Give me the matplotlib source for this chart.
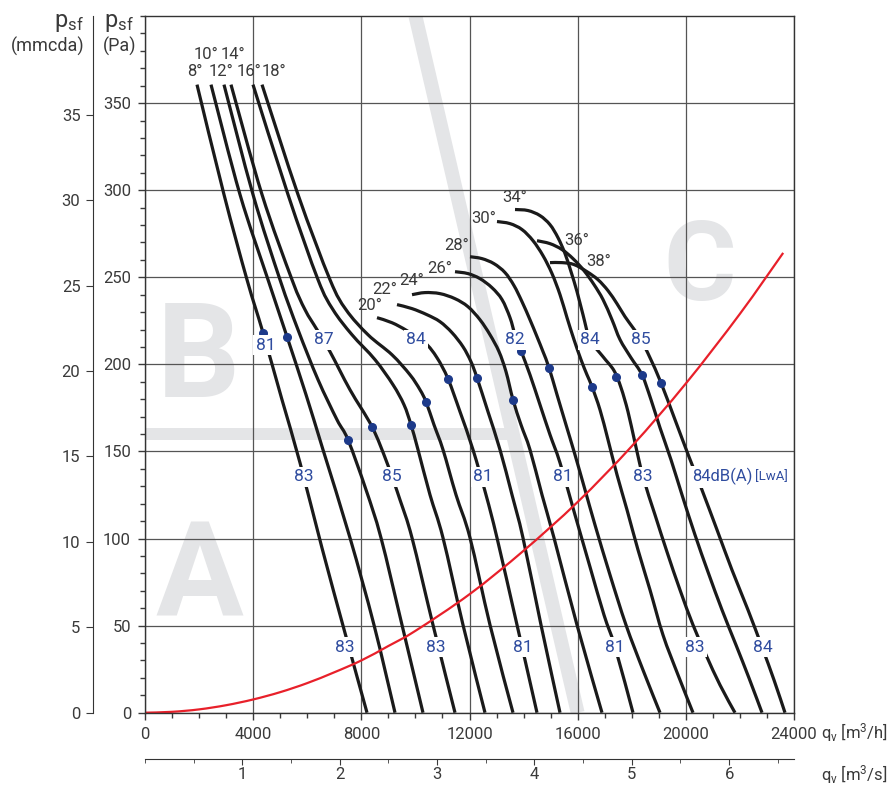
import matplotlib
matplotlib.use("Agg")
from matplotlib import pyplot as plt
from matplotlib.ticker import MultipleLocator
from matplotlib.path import Path
from matplotlib.patches import PathPatch

plt.rcParams['font.family'] = ['Roboto', 'DejaVu Sans']
plt.rcParams['mathtext.fontset'] = 'custom'
plt.rcParams['mathtext.rm'] = 'Roboto'
plt.rcParams['mathtext.it'] = 'Roboto'

TXT = '#3a3a3a'
BLUE = '#2f4c9f'
DOT = '#1d3a8a'
GREY = '#e4e5e7'

# fan curves per blade angle: airflow q (m3/h), static pressure p (Pa)
q08 = [1923, 2921, 3772, 4364, 5066, 5732, 6545, 7396, 8210]
p08 = [360.6, 297.5, 248.6, 218.2, 179.7, 143.5, 94.6, 45.8, 0]
q10 = [2441, 3513, 4549, 5251, 5954, 6582, 7581, 8468, 9245]
p10 = [360.6, 297.5, 248.6, 215.9, 182.6, 151.0, 100.4, 50.4, 0]
q12 = [2921, 3994, 4992, 5658, 6398, 7100, 7507, 8173, 8727, 9504, 10280]
p12 = [360.6, 297.5, 248.6, 219.9, 191.2, 168.2, 156.7, 128.0, 100.4, 50.4, 0]
q14 = [3180, 4327, 5436, 5917, 6361, 6841, 7581, 8394, 8949, 9430, 9874, 10650, 11464]
p14 = [360.6, 297.5, 248.6, 231.4, 219.9, 207.3, 185.4, 164.2, 143.5, 122.2, 100.4, 50.4, 0]
q16 = [3994, 5288, 6398, 6952, 7655, 8505, 9171, 9578, 9837, 10096, 10539, 11020, 11760, 12573]
p16 = [360.6, 297.5, 248.6, 231.4, 217.0, 202.7, 188.3, 176.8, 165.3, 151.0, 125.1, 100.4, 50.4, 0]
q18 = [4327, 5658, 6841, 7433, 8247, 9134, 9800, 10170, 10391, 10687, 11020, 11501, 12019, 12758, 13609]
p18 = [360.6, 297.5, 248.6, 231.4, 217.0, 205.5, 194.0, 185.4, 178.5, 165.3, 151.0, 125.1, 100.4, 50.4, 0]
q20 = [8579, 9134, 9689, 10354, 10798, 11205, 11649, 12129, 12610, 13017, 13757, 14496]
p20 = [226.8, 223.9, 219.3, 212.4, 203.8, 191.7, 172.8, 151.0, 125.1, 100.4, 50.4, 0]
q22 = [9319, 9874, 10428, 10909, 11353, 11760, 12055, 12277, 12684, 13128, 13572, 13978, 14644, 15347]
p22 = [234.3, 232.0, 228.5, 224.5, 218.2, 210.1, 201.5, 192.3, 172.8, 151.0, 125.1, 100.4, 50.4, 0]
q24 = [9874, 10354, 10909, 11464, 11944, 12388, 12758, 13091, 13350, 13609, 13905, 14237, 14681,
       15125, 15975, 16900]
p24 = [240.0, 241.2, 240.6, 237.7, 233.1, 225.6, 217.0, 207.3, 195.8, 179.7, 165.3, 151.0, 125.1,
       100.4, 50.4, 0]
q26 = [11464, 11944, 12388, 12832, 13202, 13498, 13683, 13905, 14237, 14607, 14977, 15347, 15901,
       16456, 16974, 17381, 18046]
p26 = [253.2, 252.1, 249.2, 244.0, 237.2, 226.8, 217.0, 207.8, 194.0, 176.8, 159.6, 143.5, 113.6,
       83.7, 56.1, 37.7, 0]
q28 = [12019, 12462, 12906, 13313, 13646, 13941, 14237, 14496, 14718, 14940, 15236, 15569, 15901,
       16271, 16641, 17196, 17787, 18416, 19045]
p28 = [261.8, 260.7, 257.8, 252.7, 245.2, 236.0, 225.6, 215.9, 207.3, 198.1, 182.6, 165.3, 148.1,
       128.0, 107.8, 79.1, 50.4, 24.5, 0]
q30 = [13017, 13498, 13941, 14348, 14718, 15051, 15347, 15606, 15864, 16123, 16345, 16530, 16826,
       17122, 17455, 17824, 18231, 18675, 19156, 19711, 20265]
p30 = [282.0, 280.8, 277.4, 271.0, 262.4, 252.1, 240.0, 226.8, 214.2, 202.7, 194.0, 187.2, 173.9,
       156.7, 136.6, 116.5, 93.5, 70.5, 44.6, 21.7, 0]
q34 = [13683, 14163, 14607, 14977, 15273, 15532, 15754, 15975, 16197, 16456, 16937, 17344, 17603,
       17861, 18120, 18416, 18860, 19304, 19784, 20265, 20746, 21264, 21818]
p34 = [288.9, 288.3, 285.4, 280.2, 272.7, 263.6, 253.2, 241.8, 228.5, 214.2, 204.4, 196.4, 186.6,
       172.8, 155.0, 135.5, 113.6, 92.3, 70.5, 50.4, 33.2, 15.9, 0]
q36 = [14496, 14977, 15421, 15827, 16234, 16604, 16937, 17270, 17566, 17972, 18379, 18712, 19045,
       19452, 19858, 20339, 20820, 21338, 21855, 22336, 22817]
p36 = [271.0, 269.3, 265.9, 260.7, 253.8, 245.8, 237.2, 225.6, 214.2, 203.8, 194.0, 179.7, 163.6,
       145.2, 125.1, 102.1, 80.8, 59.0, 38.9, 19.9, 0]
q38 = [14977, 15421, 15864, 16345, 16752, 17122, 17455, 17750, 18046, 18342, 18675, 19082, 19600,
       20117, 20595, 21153, 21708, 22299, 22817, 23260, 23667]
p38 = [258.4, 258.4, 257.3, 253.2, 248.6, 242.3, 234.8, 227.4, 221.0, 214.2, 203.8, 189.4, 168.2,
       146.9, 128.0, 105.0, 81.9, 59.0, 37.7, 18.8, 0]

curves = [(q08, p08), (q10, p10), (q12, p12), (q14, p14), (q16, p16), (q18, p18),
          (q20, p20), (q22, p22), (q24, p24), (q26, p26), (q28, p28), (q30, p30),
          (q34, p34), (q36, p36), (q38, p38)]

# best-efficiency points
dot_q = [4364, 5251, 7507, 8394, 9837, 10391, 11205, 12277, 13609, 13905, 14940, 16530, 17420, 18379, 19082]
dot_p = [218.2, 215.9, 156.7, 164.2, 165.3, 178.5, 191.7, 192.3, 179.7, 207.8, 198.1, 187.2, 192.9, 194.0, 189.4]

# system curve
sys_q = [0, 1000, 2000, 3000, 4000, 5000, 6000, 7000, 8000, 9000, 10000, 12000,
         14000, 16000, 18000, 20000, 22000, 23600]
sys_p = [0, 0.5, 1.9, 4.3, 7.6, 11.8, 17, 23.2, 30, 38.3, 47, 68, 93, 121, 153, 189, 229, 264]

# blade angle labels
ang_txt = ['10°', '14°', '8°', '12°', '16°', '18°', '20°', '22°', '24°', '26°', '28°', '30°', '34°', '36°', '38°']
ang_q = [2256, 3254, 1849, 2810, 3840, 4760, 8320, 8875, 9870, 10910, 11540, 12540, 13680, 15970, 16790]
ang_p = [378, 378, 368, 368, 368, 368, 234, 243, 248, 255, 268, 284, 296, 271, 259]

# sound power labels dB(A)
snd_txt = ['81', '87', '84', '82', '84', '85',
           '83', '85', '81', '81', '83',
           '83', '83', '81', '81', '83', '84']
snd_q = [4470, 6620, 10020, 13680, 16460, 18340,
         5880, 9130, 12500, 15460, 18420,
         7400, 10760, 13980, 17380, 20340, 22850]
snd_p = [211, 214, 214, 214, 214, 214,
         135.5, 135.5, 135.5, 135.5, 135.5,
         37.7, 37.7, 37.7, 37.7, 37.7, 37.7]


def smooth_path(xs, ys):
    # bezier path passing through the read points
    pts = list(zip(xs, ys))
    n = len(pts)
    verts = [pts[0]]
    codes = [Path.MOVETO]
    for i in range(n - 1):
        p0 = pts[i - 1] if i > 0 else pts[i]
        p1 = pts[i]
        p2 = pts[i + 1]
        p3 = pts[i + 2] if i + 2 < n else pts[i + 1]
        c1 = (p1[0] + (p2[0] - p0[0]) / 6, p1[1] + (p2[1] - p0[1]) / 6)
        c2 = (p2[0] - (p3[0] - p1[0]) / 6, p2[1] - (p3[1] - p1[1]) / 6)
        verts += [c1, c2, p2]
        codes += [Path.CURVE4] * 3
    return Path(verts, codes)


fig = plt.figure(figsize=(8.92, 7.85), dpi=100)
ax = fig.add_axes([145 / 892, 1 - 712.7 / 785, 649 / 892, 696.7 / 785])
ax.set_xlim(0, 24000)
ax.set_ylim(0, 400)

# grey zone marks
ax.plot([10000, 16000], [400, 0], color=GREY, lw=10, solid_capstyle='butt', zorder=0.5)
ax.plot([0, 13600], [160, 160], color=GREY, lw=8.6, solid_capstyle='butt', zorder=0.4)
ax.text(1960, 181, 'B', color=GREY, fontsize=94, fontweight='bold', ha='center', va='baseline', zorder=0.3)
ax.text(2030, 56, 'A', color=GREY, fontsize=94, fontweight='bold', ha='center', va='baseline', zorder=0.3)
ax.text(20520, 237, 'C', color=GREY, fontsize=80, fontweight='bold', ha='center', va='baseline', zorder=0.3)

ax.set_xticks(range(0, 24001, 4000))
ax.set_yticks(range(0, 351, 50))
ax.xaxis.set_minor_locator(MultipleLocator(1000))
ax.yaxis.set_minor_locator(MultipleLocator(10))
ax.grid(True, which='major', color='#555555', lw=0.9)
ax.tick_params(which='both', direction='out', colors=TXT, labelsize=12, width=1)
ax.tick_params(which='major', length=5, pad=5)
ax.tick_params(which='minor', length=3.5)
for sp in ax.spines.values():
    sp.set_color('#333333')
    sp.set_linewidth(1)

ax.add_patch(PathPatch(smooth_path(sys_q, sys_p), fill=False, ec='#e8202a', lw=1.6, zorder=2.5))
for q, p in curves:
    ax.add_patch(PathPatch(smooth_path(q, p), fill=False, ec='#1a1a1a', lw=2.3,
                           capstyle='butt', zorder=2))
ax.plot(dot_q, dot_p, 'o', color=DOT, ms=5.5, zorder=4)

for s, x, y in zip(ang_txt, ang_q, ang_p):
    ax.text(x, y, s, color=TXT, fontsize=12, ha='center', va='center', zorder=5)
for s, x, y in zip(snd_txt, snd_q, snd_p):
    ax.text(x, y, s, color=BLUE, fontsize=12.5, ha='center', va='center', zorder=5,
            bbox=dict(boxstyle='square,pad=0.15', fc='white', ec='none'))
ax.text(20230, 135.5, '84dB(A)', color=BLUE, fontsize=12, ha='left', va='center', zorder=5,
        bbox=dict(boxstyle='square,pad=0.15', fc='white', ec='none'))
ax.text(22550, 135.5, '[LwA]', color=BLUE, fontsize=9.5, ha='left', va='center', zorder=5)

# mmcda axis
axm = ax.secondary_yaxis(-52 / 649, functions=(lambda p: p / 9.80665, lambda m: m * 9.80665))
axm.set_yticks(range(0, 36, 5))
axm.tick_params(direction='out', length=5, colors=TXT, labelsize=12, pad=4)
axm.spines['left'].set_color('#333333')

# m3/s axis
axs = ax.secondary_xaxis(-46.3 / 696.7, functions=(lambda q: q / 3600, lambda s: s * 3600))
axs.set_xticks(range(1, 7))
axs.xaxis.set_minor_locator(MultipleLocator(0.5))
axs.tick_params(which='both', direction='out', colors=TXT, labelsize=12)
axs.tick_params(which='major', length=4, pad=2)
axs.tick_params(which='minor', length=3)
axs.spines['bottom'].set_color('#333333')

fig.text(84 / 892, 1 - 22 / 785, r'p$_\mathrm{sf}$', color=TXT, fontsize=17, ha='right', va='center')
fig.text(84 / 892, 1 - 46 / 785, '(mmcda)', color=TXT, fontsize=13, ha='right', va='center')
fig.text(104 / 892, 1 - 22 / 785, r'p$_\mathrm{sf}$', color=TXT, fontsize=17, ha='left', va='center')
fig.text(103 / 892, 1 - 46 / 785, '(Pa)', color=TXT, fontsize=13, ha='left', va='center')
fig.text(821 / 892, 1 - 733 / 785, r'q$_\mathrm{v}$ [m$^3$/h]', color=TXT, fontsize=12, ha='left', va='center')
fig.text(821 / 892, 1 - 775 / 785, r'q$_\mathrm{v}$ [m$^3$/s]', color=TXT, fontsize=12, ha='left', va='center')

fig.savefig('out.png', dpi=100)
